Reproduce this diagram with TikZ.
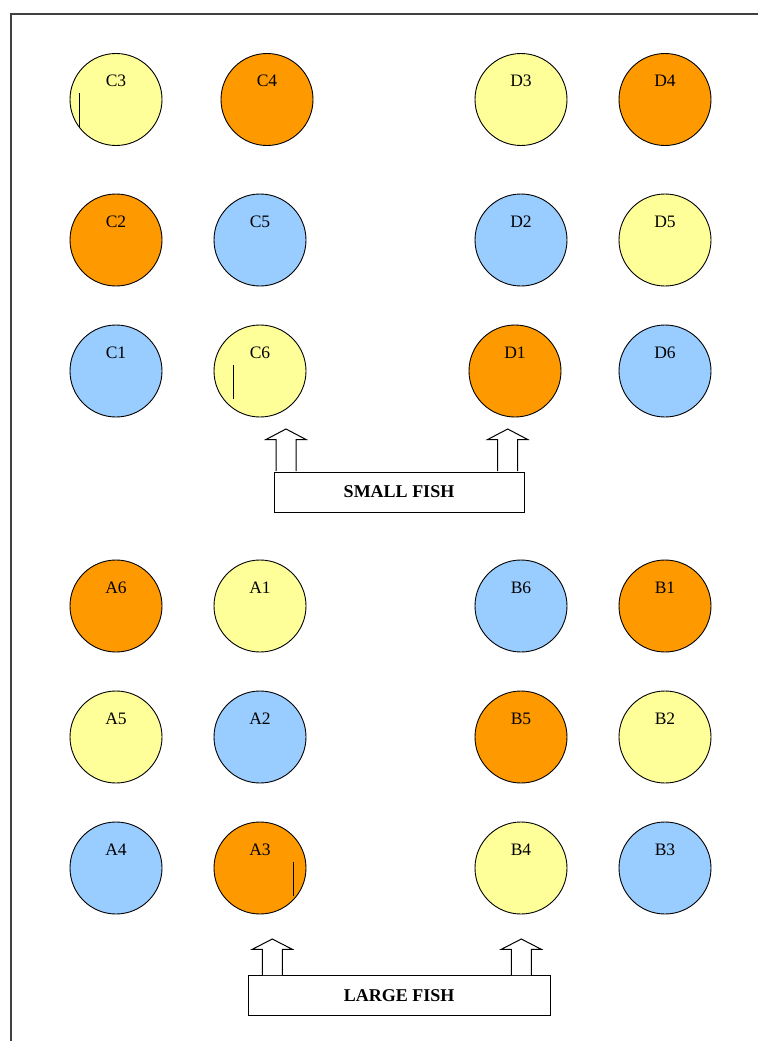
\documentclass[tikz,border=0pt]{standalone}
\usepackage{fontspec}
\setmainfont{Liberation Serif}
\definecolor{pyel}{HTML}{FFFF99}
\definecolor{porg}{HTML}{FF9900}
\definecolor{pblu}{HTML}{99CCFF}
\definecolor{frame}{HTML}{404040}
\begin{document}
\begin{tikzpicture}[x=1pt,y=-1pt,
  tank/.style={circle,draw=black,line width=0.9pt,minimum size=92pt,inner sep=0pt},
  yel/.style={tank,fill=pyel},
  org/.style={tank,fill=porg},
  blu/.style={tank,fill=pblu},
  lbl/.style={font=\fontsize{17.5}{17.5}\selectfont,inner sep=0pt},
  fishbox/.style={draw=black,line width=1pt,fill=white,minimum width=#1,minimum height=40pt,inner sep=0pt,font=\fontsize{18}{18}\selectfont\bfseries},
  blockarrow/.style={draw=black,line width=1pt,fill=white},
  strokemark/.style={draw=black,line width=0.8pt}
]
\useasboundingbox (0,0) rectangle (758,1041);
\draw[frame,line width=1.2pt] (758,14) -- (11,14) -- (11,1041);

% tanks: name, style, x, y
\foreach \n/\s/\x/\y in {
  C3/yel/116/99.5, C4/org/267/99.5, D3/yel/521/99.5, D4/org/665/99.5,
  C2/org/116/240, C5/blu/260/240, D2/blu/521/240, D5/yel/665/240,
  C1/blu/116/371, C6/yel/260/371, D1/org/515/371, D6/blu/665/371,
  A6/org/116/606, A1/yel/260/606, B6/blu/521/606, B1/org/665/606,
  A5/yel/116/737, A2/blu/260/737, B5/org/521/737, B2/yel/665/737,
  A4/blu/116/868, A3/org/260/868, B4/yel/521/868, B3/blu/665/868}
{
  \node[\s] (\n) at (\x,\y) {};
  \node[lbl] (\n-t) at ([yshift=18.5pt]\n.center) {\n};
}

% stray marks
\draw[strokemark] (79,93) -- (79,128);
\draw[strokemark] (233.3,365) -- (233.3,399);
\draw[strokemark] (293.3,862) -- (293.3,896);

% boxes
\node[fishbox=250pt] (small) at (399,492) {SMALL FISH};
\node[fishbox=301.7pt,minimum height=39.7pt] (large) at (399.2,995.2) {LARGE FISH};

% block arrows
\foreach \cx/\tip/\hb/\bot in {286/429/439.5/471, 507.7/429/439.5/471, 272.3/939/949.3/975, 521.3/939/949.3/975}{
  \draw[blockarrow] (\cx-10,\bot) -- (\cx-10,\hb) -- (\cx-20,\hb) -- (\cx,\tip) -- (\cx+20,\hb) -- (\cx+10,\hb) -- (\cx+10,\bot);
}
\end{tikzpicture}
\end{document}
